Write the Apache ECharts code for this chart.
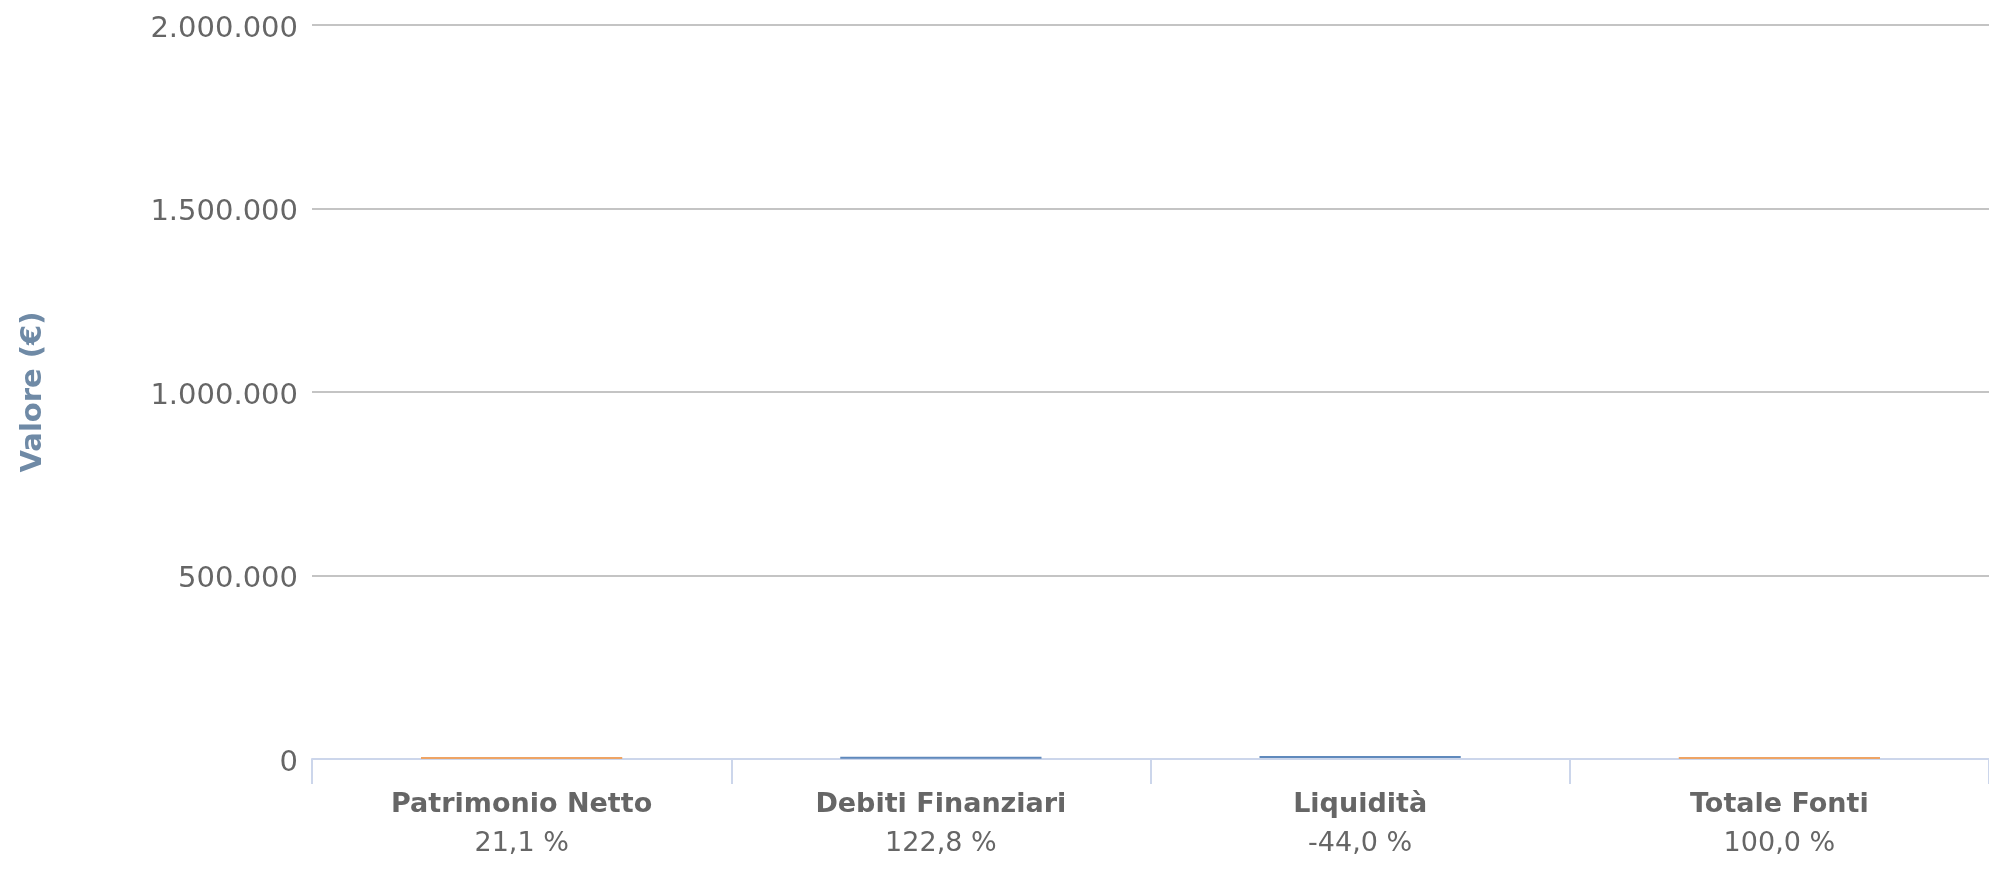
<!DOCTYPE html>
<html>
<head>
<meta charset="utf-8">
<script src="https://cdn.jsdelivr.net/npm/echarts@6/dist/echarts.min.js"></script>
<style>
html,body{margin:0;padding:0;background:#fff;}
#chart{width:1989px;height:869px;}
</style>
</head>
<body>
<div id="chart"></div>
<script>
const categories = ['Patrimonio Netto', 'Debiti Finanziari', 'Liquidità', 'Totale Fonti'];
const percentLabels = ['21,1 %', '122,8 %', '-44,0 %', '100,0 %'];
// waterfall: invisible base + visible value
const baseValues = [0, 633, 2997, 0];
const barValues = [633, 3684, 1320, 3000];
const barColors = ['#eea465', '#5f89bc', '#5f89bc', '#eea465'];
const yTicks = { min: 0, max: 2000000, interval: 500000 };

const chart = echarts.init(document.getElementById('chart'));
const fmt = v => '{v|' + String(v).replace(/\B(?=(\d{3})+(?!\d))/g, '.') + '}';
chart.setOption({
  animation: false,
  textStyle: { fontFamily: 'DejaVu Sans' },
  grid: { left: 312, right: -2, top: 25, bottom: 110, containLabel: false },
  xAxis: {
    type: 'category',
    data: categories,
    offset: 2,
    axisLine: { show: true, lineStyle: { color: '#ccd6eb', width: 2 } },
    axisTick: { show: true, length: 25, lineStyle: { color: '#ccd6eb', width: 2 } },
    axisLabel: {
      margin: 24,
      formatter: (v, i) => '{a|' + v + '}\n{b|' + percentLabels[i] + '}',
      rich: {
        a: { fontSize: 27, fontWeight: 'bold', color: '#666666', lineHeight: 40, fontFamily: 'DejaVu Sans' },
        b: { fontSize: 27, color: '#666666', lineHeight: 38, fontFamily: 'DejaVu Sans' }
      }
    }
  },
  yAxis: {
    type: 'value',
    min: yTicks.min, max: yTicks.max, interval: yTicks.interval,
    name: 'Valore (€)',
    nameLocation: 'middle',
    nameGap: 264,
    nameTextStyle: { fontSize: 29, fontWeight: 'bold', color: '#6f8aa6', fontFamily: 'DejaVu Sans' },
    axisLine: { show: false },
    axisTick: { show: false },
    axisLabel: {
      margin: 14, formatter: fmt, verticalAlign: 'middle',
      rich: { v: { fontSize: 29, color: '#666666', fontFamily: 'DejaVu Sans', padding: [8, 0, 0, 0] } }
    },
    splitLine: { lineStyle: { color: '#c4c4c4', width: 2 } }
  },
  series: [
    {
      type: 'bar', stack: 'w', data: baseValues, barWidth: '48%',
      itemStyle: { color: 'transparent' }, silent: true
    },
    {
      type: 'bar', stack: 'w', barWidth: '48%', barMinHeight: 2,
      data: barValues.map((v, i) => ({ value: v, itemStyle: { color: barColors[i] } }))
    }
  ]
});
</script>
</body>
</html>
